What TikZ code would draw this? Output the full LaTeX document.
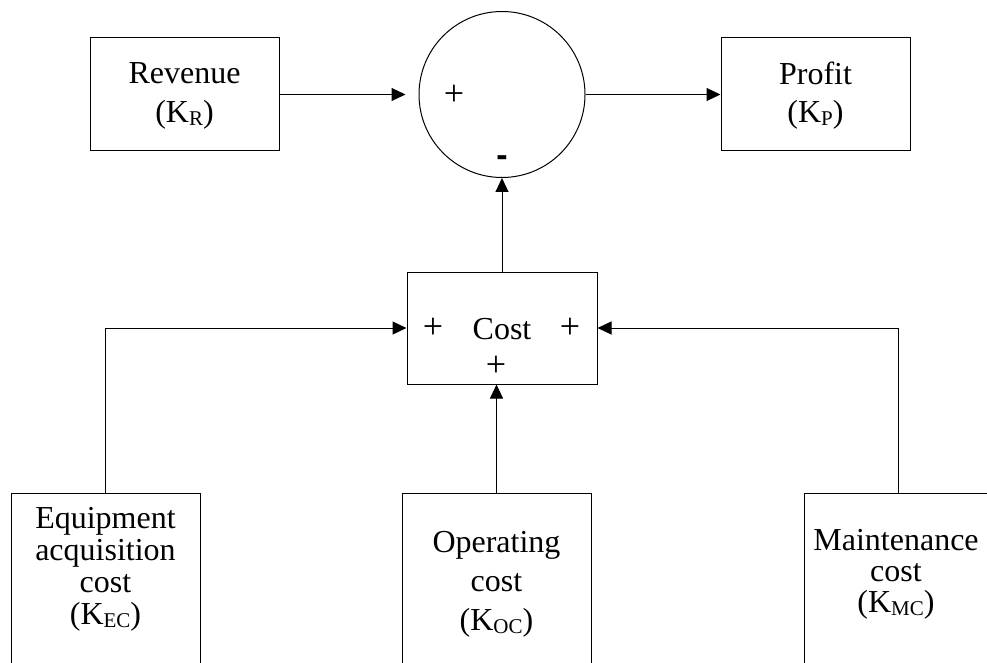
\documentclass[tikz,border=0pt]{standalone}
\usepackage{fontspec}
\setmainfont{Liberation Serif}
\newfontfamily\signfont{Liberation Sans}
\usetikzlibrary{arrows.meta}
\newcommand\subs[1]{\raisebox{-3pt}{\fontsize{21}{21}\selectfont #1}}
\begin{document}
\begin{tikzpicture}[x=1pt,y=-1pt,
  box/.style={draw, line width=1pt, rectangle, minimum width=189pt, inner sep=0pt},
  sumnode/.style={draw, circle, line width=1pt, minimum size=166pt, inner sep=0pt},
  txt/.style={anchor=base, inner sep=0pt, text height=20pt, text depth=4pt, font=\fontsize{32}{38}\selectfont},
  sign/.style={txt, font=\fontsize{36}{38}\selectfont},
  conn/.style={line width=1pt, -{Triangle[length=14pt,width=13pt]}}]
\useasboundingbox (0,0) rectangle (987,663);
\clip (0,0) rectangle (987,663);
% boxes
\node[box, minimum height=113pt] (rev) at (184.5,94.5) {};
\node[sumnode] (sum) at (502,94.5) {};
\node[box, minimum height=113pt] (prof) at (815.5,94.5) {};
\node[box, minimum width=190pt, minimum height=112pt] (cost) at (502,328) {};
\node[box, minimum height=220pt] (eq) at (105.5,603) {};
\node[box, minimum height=220pt] (op) at (496.5,603) {};
\node[box, minimum height=220pt] (mc) at (898.5,603) {};
% texts
\node[txt] (revA) at (184.5,84) {Revenue};
\node[txt] (revB) at (184.5,123) {(K\subs{R})};
\node[txt] (profA) at (815.5,85) {Profit};
\node[txt] (profB) at (815.5,123) {(K\subs{P})};
\node[sign] (sumplus) at (454,106) {+};
\node[txt, font=\signfont\bfseries\fontsize{34}{38}\selectfont] (summinus) at (502,167) {-};
\node[txt] (costA) at (502,339) {Cost};
\node[sign] (costL) at (433,338) {+};
\node[sign] (costR) at (570,338) {+};
\node[sign] (costB) at (496,376) {+};
\node[txt] (eqA) at (105.5,528) {Equipment};
\node[txt] (eqB) at (105.5,560) {acquisition};
\node[txt] (eqC) at (105.5,592) {cost};
\node[txt] (eqD) at (105.5,624) {(K\subs{EC})};
\node[txt] (opA) at (496.5,552) {Operating};
\node[txt] (opB) at (496.5,591) {cost};
\node[txt] (opC) at (496.5,630) {(K\subs{OC})};
\node[txt] (mcA) at (896,550) {Maintenance};
\node[txt] (mcB) at (896,581) {cost};
\node[txt] (mcC) at (896,612) {(K\subs{MC})};
% connectors
\draw[conn, shorten >=13pt] (rev) -- (sum);
\draw[conn] (sum) -- (prof);
\draw[conn] (cost) -- (sum);
\draw[conn] (eq.north) |- (cost.west);
\draw[conn] (mc.north) |- (cost.east);
\draw[conn] (op.north) -- (op.north |- cost.south);
\end{tikzpicture}
\end{document}
